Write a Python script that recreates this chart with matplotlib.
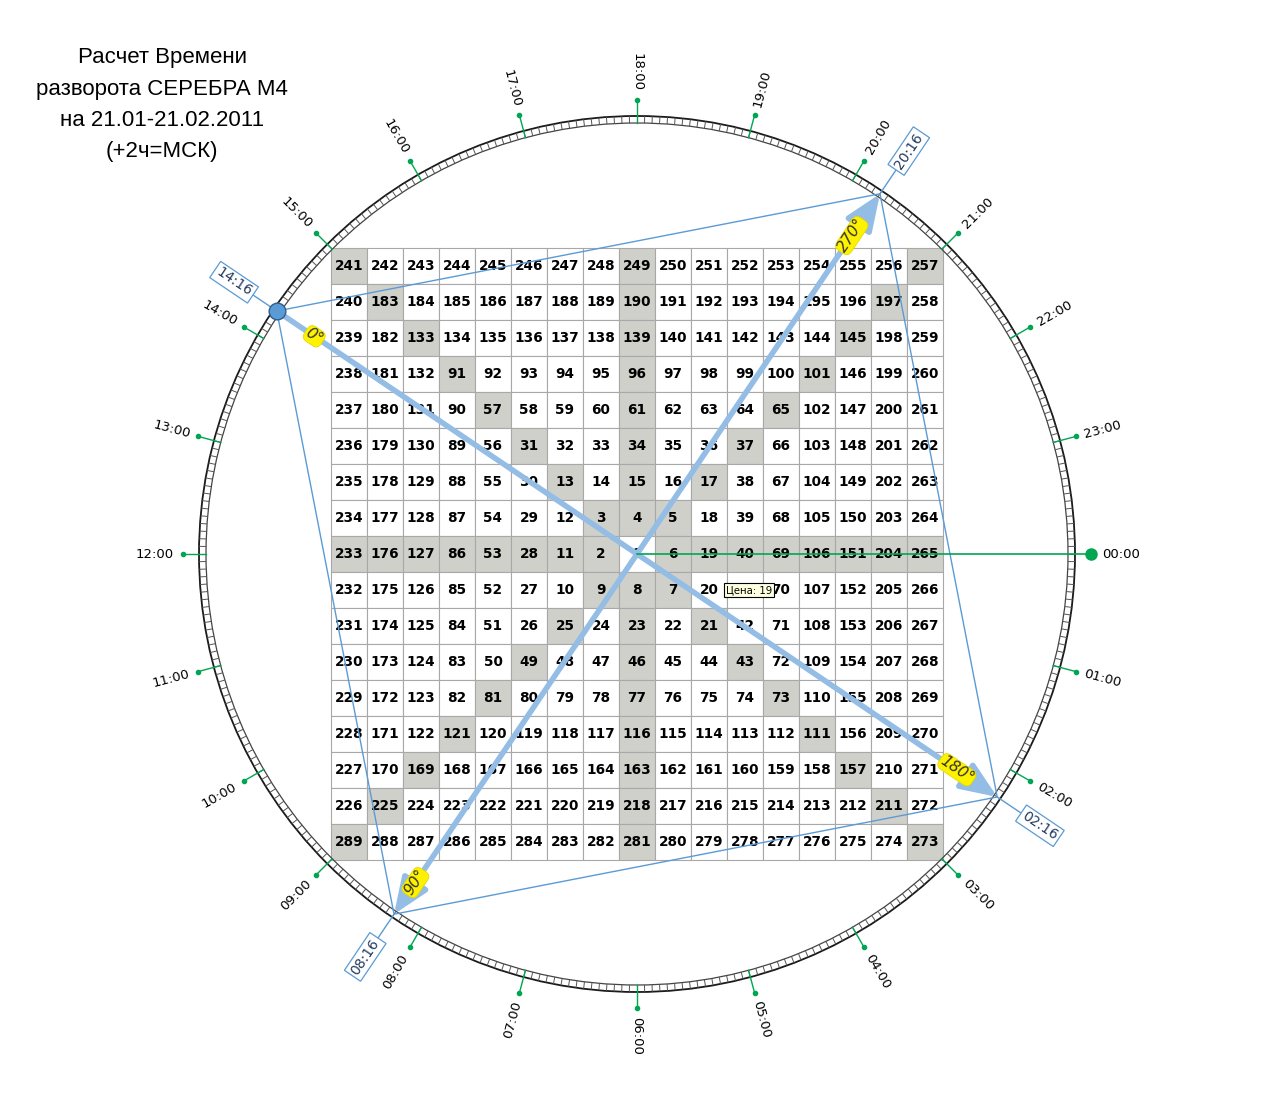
#!/usr/bin/env python3
import numpy as np
import matplotlib
matplotlib.use('Agg')
import matplotlib.pyplot as plt
from matplotlib.patches import Rectangle, Circle
from matplotlib.collections import LineCollection

# Gann square of nine, rows from top to bottom
square_rows = [
    [241, 242, 243, 244, 245, 246, 247, 248, 249, 250, 251, 252, 253, 254, 255, 256, 257],
    [240, 183, 184, 185, 186, 187, 188, 189, 190, 191, 192, 193, 194, 195, 196, 197, 258],
    [239, 182, 133, 134, 135, 136, 137, 138, 139, 140, 141, 142, 143, 144, 145, 198, 259],
    [238, 181, 132, 91, 92, 93, 94, 95, 96, 97, 98, 99, 100, 101, 146, 199, 260],
    [237, 180, 131, 90, 57, 58, 59, 60, 61, 62, 63, 64, 65, 102, 147, 200, 261],
    [236, 179, 130, 89, 56, 31, 32, 33, 34, 35, 36, 37, 66, 103, 148, 201, 262],
    [235, 178, 129, 88, 55, 30, 13, 14, 15, 16, 17, 38, 67, 104, 149, 202, 263],
    [234, 177, 128, 87, 54, 29, 12, 3, 4, 5, 18, 39, 68, 105, 150, 203, 264],
    [233, 176, 127, 86, 53, 28, 11, 2, 1, 6, 19, 40, 69, 106, 151, 204, 265],
    [232, 175, 126, 85, 52, 27, 10, 9, 8, 7, 20, 41, 70, 107, 152, 205, 266],
    [231, 174, 125, 84, 51, 26, 25, 24, 23, 22, 21, 42, 71, 108, 153, 206, 267],
    [230, 173, 124, 83, 50, 49, 48, 47, 46, 45, 44, 43, 72, 109, 154, 207, 268],
    [229, 172, 123, 82, 81, 80, 79, 78, 77, 76, 75, 74, 73, 110, 155, 208, 269],
    [228, 171, 122, 121, 120, 119, 118, 117, 116, 115, 114, 113, 112, 111, 156, 209, 270],
    [227, 170, 169, 168, 167, 166, 165, 164, 163, 162, 161, 160, 159, 158, 157, 210, 271],
    [226, 225, 224, 223, 222, 221, 220, 219, 218, 217, 216, 215, 214, 213, 212, 211, 272],
    [289, 288, 287, 286, 285, 284, 283, 282, 281, 280, 279, 278, 277, 276, 275, 274, 273],
]

clock_hours = list(range(24))
turn_times = ['14:16', '20:16', '02:16', '08:16']
turn_degrees = ['0°', '270°', '180°', '90°']
title_lines = ['Расчет Времени', 'разворота СЕРЕБРА М4', 'на 21.01-21.02.2011', '(+2ч=МСК)']
price_tip = 'Цена: 19'

# layout (pixels)
W, H = 1275, 1108
CX, CY = 637, 554
CELL = 36
R_IN, R_OUT = 431, 438
R_MID = 434.5

GREEN = '#00a651'
BLUE = '#5b9bd5'
ARROW = '#94bde6'


def to_hours(s):
    h, m = s.split(':')
    return int(h) + int(m) / 60.0


def polar(hours, r):
    a = np.radians(hours * 15.0)
    return CX + r * np.cos(a), CY + r * np.sin(a)


def radial_rotation(hours):
    a = (-hours * 15.0) % 360
    if a >= 270:
        a -= 360
    elif a >= 90:
        a -= 180
    return a


fig = plt.figure(figsize=(W / 100, H / 100), dpi=100)
ax = fig.add_axes([0, 0, 1, 1])
ax.set_xlim(0, W)
ax.set_ylim(H, 0)
ax.axis('off')

# square grid
n = len(square_rows)
mid = n // 2
x0 = CX - CELL * n / 2
y0 = CY - CELL * n / 2
for i, row in enumerate(square_rows):
    for j, val in enumerate(row):
        on_cross = i == j or i + j == n - 1 or i == mid or j == mid
        fc = '#d0d0cb' if on_cross and not (i == mid and j == mid) else 'white'
        ax.add_patch(Rectangle((x0 + j * CELL, y0 + i * CELL), CELL, CELL,
                               fc=fc, ec='#a8a8a8', lw=0.8, zorder=1))
        ax.text(x0 + (j + 0.5) * CELL, y0 + (i + 0.5) * CELL, str(val),
                ha='center', va='center', fontsize=9.8, fontweight='bold',
                color='black', zorder=3)

# clock ring with one division per degree
ax.add_patch(Circle((CX, CY), R_OUT, fill=False, ec='#1a1a1a', lw=1.3, zorder=2))
ax.add_patch(Circle((CX, CY), R_IN, fill=False, ec='#444444', lw=0.9, zorder=2))
segs = []
for d in range(360):
    a = np.radians(d)
    segs.append([(CX + R_IN * np.cos(a), CY + R_IN * np.sin(a)),
                 (CX + R_OUT * np.cos(a), CY + R_OUT * np.sin(a))])
ax.add_collection(LineCollection(segs, colors='#555555', linewidths=0.7, zorder=2))

# hour marks
for h in clock_hours:
    label = f'{h:02d}:00'
    if h == 0:
        dx, dy = polar(h, 454)
        ax.plot([CX, dx], [CY, dy], color=GREEN, lw=1.2, zorder=6)
        ax.plot(dx, dy, 'o', ms=8, color=GREEN, zorder=7)
        ax.text(dx + 11, dy, label, ha='left', va='center', fontsize=9.5, color='black')
        continue
    p1 = polar(h, R_IN)
    p2 = polar(h, 454)
    ax.plot([p1[0], p2[0]], [p1[1], p2[1]], color=GREEN, lw=1.0, zorder=3)
    ax.plot(p2[0], p2[1], 'o', ms=3, color=GREEN, zorder=3)
    lx, ly = polar(h, 482)
    ax.text(lx, ly, label, ha='center', va='center', fontsize=9.5,
            rotation=radial_rotation(h), rotation_mode='anchor', color='black')

# turning points
pts = [polar(to_hours(t), R_MID) for t in turn_times]
qx = [p[0] for p in pts] + [pts[0][0]]
qy = [p[1] for p in pts] + [pts[0][1]]
ax.plot(qx, qy, color=BLUE, lw=1.0, zorder=4)

for t, p in zip(turn_times, pts):
    hv = to_hours(t)
    e = polar(hv, 470)
    ax.plot([p[0], e[0]], [p[1], e[1]], color=BLUE, lw=1.0, zorder=4)
    bx, by = polar(hv, 486)
    ax.text(bx, by, t, ha='center', va='center', fontsize=10, color='#233a5e',
            rotation=radial_rotation(hv), rotation_mode='anchor', zorder=5,
            bbox=dict(boxstyle='square,pad=0.2', fc='white', ec=BLUE, lw=0.9))

# 0 -> 180 arrow and 90 <-> 270 arrow
ax.annotate('', xy=pts[2], xytext=pts[0], zorder=5,
            arrowprops=dict(arrowstyle='-|>,head_length=1.1,head_width=0.45',
                            mutation_scale=20, lw=4.0, color=ARROW,
                            shrinkA=0, shrinkB=0))
ax.annotate('', xy=pts[1], xytext=pts[3], zorder=5,
            arrowprops=dict(arrowstyle='<|-|>,head_length=1.1,head_width=0.45',
                            mutation_scale=20, lw=4.0, color=ARROW,
                            shrinkA=0, shrinkB=0))
ax.plot(pts[0][0], pts[0][1], 'o', ms=12, mfc='#5b9bd5', mec='#2e5f90', mew=1.0, zorder=8)


def degree_label(p_from, p_to, frac, txt):
    x = p_from[0] + frac * (p_to[0] - p_from[0])
    y = p_from[1] + frac * (p_to[1] - p_from[1])
    rot = np.degrees(np.arctan2(-(p_to[1] - p_from[1]), p_to[0] - p_from[0]))
    ax.text(x, y, txt, ha='center', va='center', fontsize=11, style='italic',
            color='#333333', rotation=rot, rotation_mode='anchor', zorder=9,
            bbox=dict(boxstyle='round,pad=0.08,rounding_size=0.4', fc='#fff200', ec='#e6d800', lw=0.6))


degree_label(pts[0], pts[2], 0.052, turn_degrees[0])
degree_label(pts[0], pts[2], 0.944, turn_degrees[2])
degree_label(pts[3], pts[1], 0.044, turn_degrees[3])
degree_label(pts[3], pts[1], 0.942, turn_degrees[1])

# price tooltip
ax.text(726, 590, price_tip, ha='left', va='center', fontsize=7.3, color='black', zorder=10,
        bbox=dict(boxstyle='square,pad=0.22', fc='#ffffe1', ec='black', lw=0.8))

# title
for k, line in enumerate(title_lines):
    ax.text(162, 58 + 31 * k, line, ha='center', va='center', fontsize=16,
            family=['Liberation Sans', 'DejaVu Sans'], color='black')

fig.savefig('out.png', dpi=100, facecolor='white')
